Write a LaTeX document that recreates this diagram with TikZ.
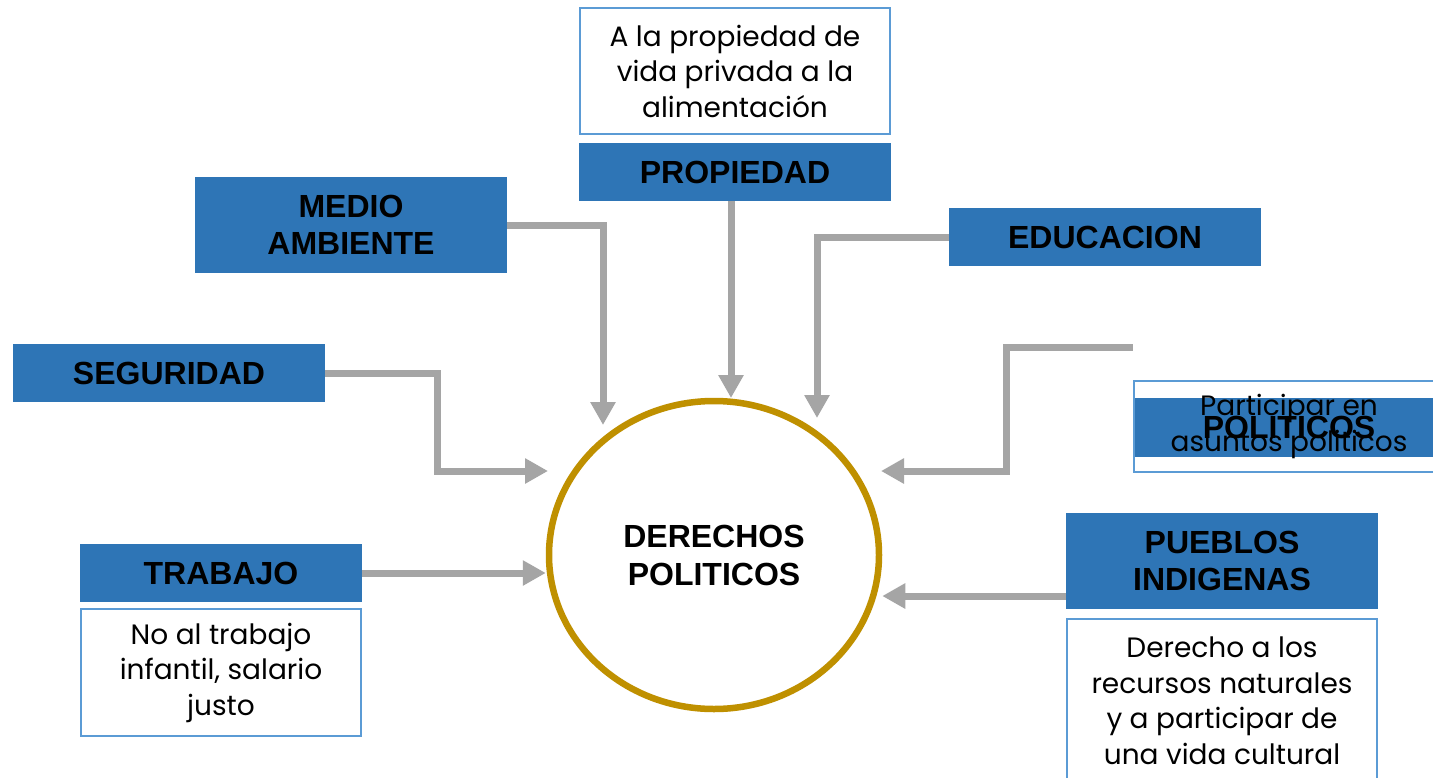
\documentclass[tikz,border=0pt]{standalone}
\usepackage{fontspec}
\setmainfont{Poppins}
\newfontfamily\lab{Liberation Sans}
\usetikzlibrary{arrows.meta,shapes.geometric,calc,backgrounds}
\definecolor{bluefill}{HTML}{2E75B6}
\definecolor{blueline}{HTML}{5B9BD5}
\definecolor{arrgray}{HTML}{A5A5A5}
\definecolor{goldline}{HTML}{BF9000}
\tikzset{
  hdr/.style={fill=bluefill, minimum width=312pt, inner sep=0pt, align=center,
    font=\lab\bfseries\fontsize{32}{37}\selectfont, text=black},
  txt/.style={draw=blueline, line width=2pt, minimum width=310pt, inner sep=0pt,
    align=center, font=\fontsize{28}{35.5}\selectfont, text=black},
  arr/.style={draw=arrgray, line width=7pt, line join=miter,
    -{Triangle[width=24pt,length=23pt]}},
}
\begin{document}
\begin{tikzpicture}[x=1pt,y=-1pt]
\clip (0,0) rectangle (1433,777);

% central ellipse
\node[draw=goldline, line width=6.5pt, ellipse, minimum width=330pt, minimum height=308pt,
  inner sep=0pt, align=center, font=\lab\bfseries\fontsize{32}{38}\selectfont] (dc) at (714,555) {DERECHOS\\POLITICOS};

% headers
\node[hdr, minimum height=58pt] (prop) at (735,172) {PROPIEDAD};
\node[hdr, minimum height=96pt] (medio) at (351,225) {MEDIO\\AMBIENTE};
\node[hdr, minimum height=58pt] (edu) at (1105,237) {EDUCACION};
\node[hdr, minimum height=58pt] (seg) at (169,373) {SEGURIDAD};
\node[hdr, minimum height=58pt, minimum width=282pt] (trab) at (221,573) {TRABAJO};
\node[hdr, minimum height=96pt] (pue) at (1222,561) {PUEBLOS\\INDIGENAS};
\begin{pgfonlayer}{background}
\fill[white] (0,0) rectangle (1433,777);
\node[hdr, minimum height=59pt] (pol) at (1289,427.5) {POLITICOS};
\end{pgfonlayer}

% text boxes
\node[txt, fill=white, minimum height=126pt] (proptxt) at (735,71) {A la propiedad de\\vida privada a la\\alimentación};
\node[txt, fill=white, minimum height=127pt, minimum width=280pt] (trabtxt) at (221,672.5) {No al trabajo\\infantil, salario\\justo};
\node[txt, fill=white, minimum height=164pt] (puetxt) at (1222,701) {Derecho a los\\recursos naturales\\y a participar de\\una vida cultural};
\node[txt, minimum height=91pt] (poltxt) at (1289,426.5) {Participar en\\asuntos politicos};

% connectors
\coordinate (polstart) at ([yshift=80.5pt]pol.west);
\draw[arr] (medio.east) -| ($(dc.center)+(-111,-130)$);
\draw[arr] ([xshift=-4pt]prop.south) -- ($(dc.center)+(17,-157)$);
\draw[arr] (edu.west) -| ($(dc.center)+(103,-137)$);
\draw[arr] (seg.east) -- ++(112,0) |- ($(dc.center)+(-166,-84)$);
\draw[arr] (polstart) -- ++(-126,0) |- ($(dc.center)+(167,-84)$);
\draw[arr] (trab.east) -- (trab.east -| dc.west);
\draw[arr] ([yshift=-35pt]pue.west) -- ([yshift=-35pt]pue.west -| dc.east);
\end{tikzpicture}
\end{document}
